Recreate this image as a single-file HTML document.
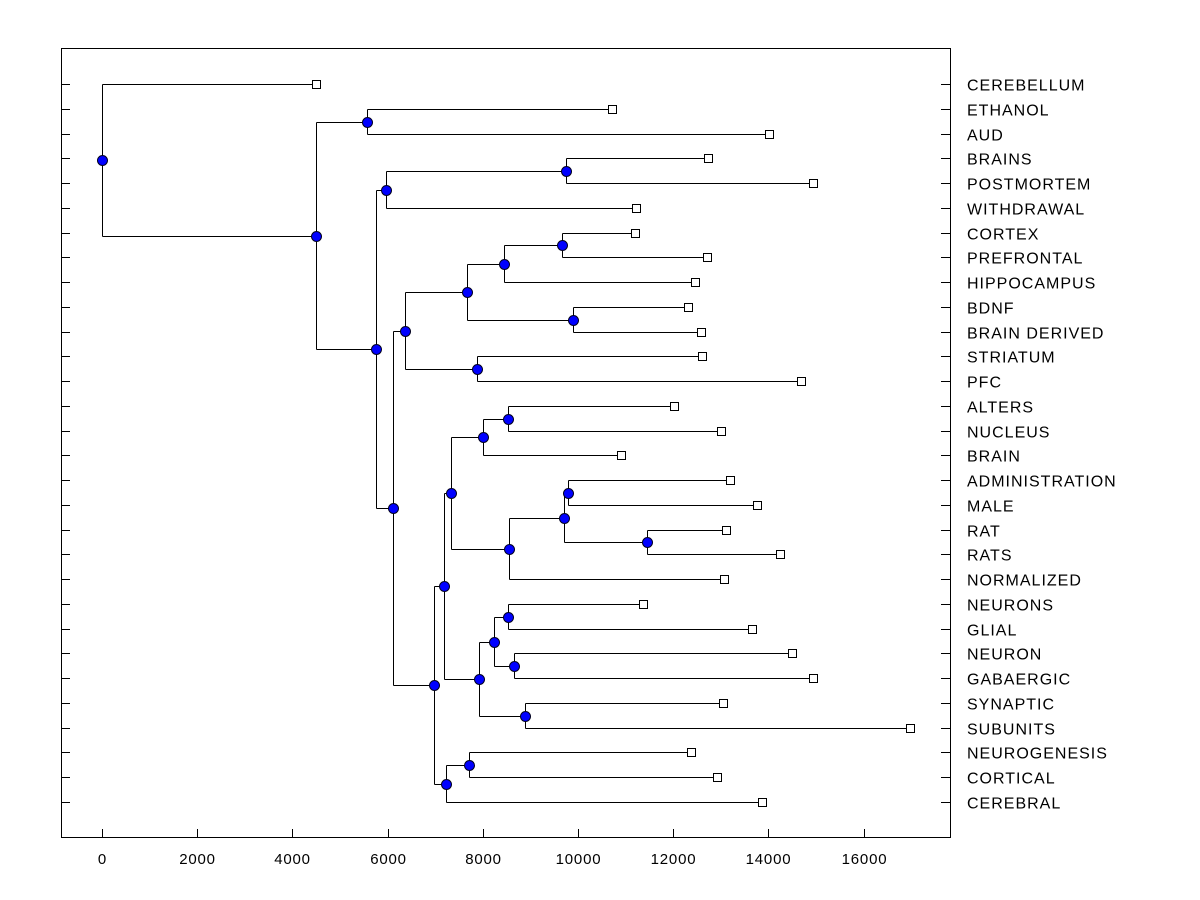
<!DOCTYPE html>
<html><head><meta charset="utf-8"><style>
html,body{margin:0;padding:0;background:#fff;}
svg{display:block;font-family:"Liberation Sans",sans-serif;}
line{shape-rendering:crispEdges;}
</style></head><body>
<svg id="chart" width="1200" height="900">
<rect x="61.5" y="48.5" width="889" height="789" fill="none" stroke="#000" stroke-width="1" shape-rendering="crispEdges"/>
<g id="ticks"></g>
<g id="links"></g>
<g id="marks"></g>
<g id="labels"></g>
</svg>
<script>
const leafLabels = ["CEREBELLUM","ETHANOL","AUD","BRAINS","POSTMORTEM","WITHDRAWAL","CORTEX","PREFRONTAL","HIPPOCAMPUS","BDNF","BRAIN DERIVED","STRIATUM","PFC","ALTERS","NUCLEUS","BRAIN","ADMINISTRATION","MALE","RAT","RATS","NORMALIZED","NEURONS","GLIAL","NEURON","GABAERGIC","SYNAPTIC","SUBUNITS","NEUROGENESIS","CORTICAL","CEREBRAL"];
const leafValues = [4494,10709,14005,12724,14929,11213,11192,12703,12451,12304,12577,12598,14677,12010,12997,10898,13186,13753,13102,14236,13060,11360,13648,14488,14929,13039,16966,12367,12913,13858];
const mergeLeft  = [1,3,31,6,33,9,34,11,36,13,39,16,18,41,43,40,21,23,46,25,48,45,27,52,51,38,32,30,0];
const mergeRight = [2,4,5,7,8,10,35,12,37,14,15,17,19,42,20,44,22,24,47,26,49,50,28,29,53,54,55,56,57];
const mergeValues = [5564,9743,5963,9659,8441,9890,7664,7874,6362,8525,8000,9785,11444,9701,8546,7328,8525,8651,8231,8882,7916,7181,7706,7223,6971,6110,5753,4494,0];
const xTicks = [0,2000,4000,6000,8000,10000,12000,14000,16000];

const NS="http://www.w3.org/2000/svg";
const X = v => Math.round(102 + v*0.0476) + 0.5;
const Y = i => Math.round(84 + i*24.758) + 0.5;
function mk(tag, attrs, parent){const e=document.createElementNS(NS,tag);for(const k in attrs)e.setAttribute(k,attrs[k]);parent.appendChild(e);return e;}
const ticks=document.getElementById('ticks'), links=document.getElementById('links'), marks=document.getElementById('marks'), labels=document.getElementById('labels');

xTicks.forEach(t=>{
  const l=mk('line',{x1:X(t),x2:X(t),y1:829,y2:838,stroke:'#000'},ticks);
  
  
  const tx=mk('text',{x:X(t),y:864,'text-anchor':'middle','font-size':15,'letter-spacing':0.8},ticks);
  tx.textContent=t;
  
  
});

const nodeX=[], nodeY=[];
leafLabels.forEach((lab,i)=>{
  nodeX[i]=X(leafValues[i]); nodeY[i]=Y(i);
  const a=mk('line',{x1:61,x2:70,y1:Y(i),y2:Y(i),stroke:'#000'},ticks);
  
  
  const b=mk('line',{x1:941,x2:950,y1:Y(i),y2:Y(i),stroke:'#000'},ticks);
  
  
  const t=mk('text',{x:967,y:Y(i)+6,'font-size':16,'letter-spacing':1},labels);
  t.textContent=lab;
  
  
});
mergeValues.forEach((v,k)=>{
  const id=30+k, a=mergeLeft[k], b=mergeRight[k], x=X(v);
  nodeX[id]=x; nodeY[id]=Math.round((nodeY[a]+nodeY[b])/2-0.5)+0.5;
  [a,b].forEach(c=>{
    const h=mk('line',{x1:x,x2:nodeX[c],y1:nodeY[c],y2:nodeY[c],stroke:'#000'},links);
    
    
  });
  const vl=mk('line',{x1:x,x2:x,y1:nodeY[a],y2:nodeY[b],stroke:'#000'},links);
  
  
});
leafLabels.forEach((lab,i)=>{
  const s=mk('rect',{x:nodeX[i]-4,y:nodeY[i]-4,width:8,height:8,fill:'#fff',stroke:'#000','shape-rendering':'crispEdges'},marks);
  
  
});
mergeValues.forEach((v,k)=>{
  const id=30+k;
  const c=mk('circle',{cx:nodeX[id],cy:nodeY[id],r:5,fill:'#0000ff',stroke:'#000020'},marks);
  
  
});
</script>
</body></html>
